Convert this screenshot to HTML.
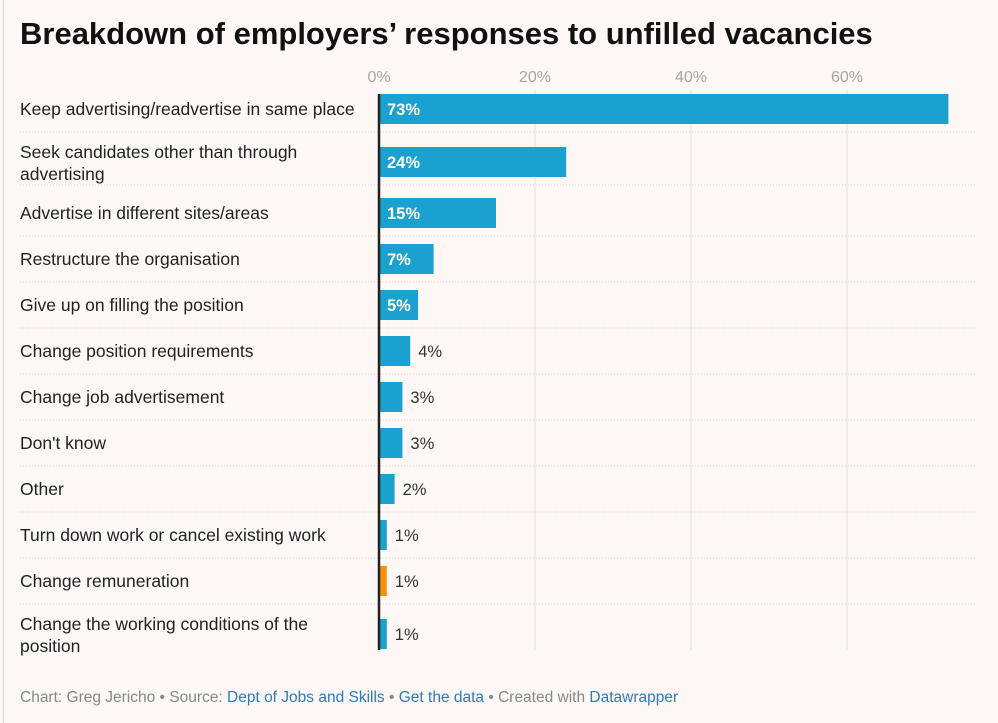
<!DOCTYPE html>
<html><head><meta charset="utf-8"><style>
body{margin:0;background:#fdf8f5;}
svg{display:block;font-family:"Liberation Sans",sans-serif;}
</style></head><body>
<svg id="c" width="998" height="723">
<rect x="0" y="0" width="998" height="723" fill="#fdf8f5"/>
<line x1="3.5" y1="0" x2="3.5" y2="723" stroke="#e2ddd9" stroke-width="1.5"/>
<text x="20" y="44" font-size="31" font-weight="bold" fill="#111">Breakdown of employers’ responses to unfilled vacancies</text>
<g id="grid"></g><g id="rows"></g>
<text x="20" y="702" font-size="15.5" fill="#888">Chart: Greg Jericho • Source: <tspan fill="#2b7cc6">Dept of Jobs and Skills</tspan> • <tspan fill="#2b7cc6">Get the data</tspan> • Created with <tspan fill="#2b7cc6">Datawrapper</tspan></text>
</svg>
<script>
const categories=[["Keep advertising/readvertise in same place"],["Seek candidates other than through","advertising"],["Advertise in different sites/areas"],["Restructure the organisation"],["Give up on filling the position"],["Change position requirements"],["Change job advertisement"],["Don't know"],["Other"],["Turn down work or cancel existing work"],["Change remuneration"],["Change the working conditions of the","position"]];
const values=[73,24,15,7,5,4,3,3,2,1,1,1];
const highlight=[false,false,false,false,false,false,false,false,false,false,true,false];
const ticks=[0,20,40,60];
const NS="http://www.w3.org/2000/svg";
const x0=379,k=7.8;
const xs=v=>x0+v*k;
function el(t,a,p){const e=document.createElementNS(NS,t);for(const n in a)e.setAttribute(n,a[n]);p.appendChild(e);return e;}
const grid=document.getElementById('grid'),rows=document.getElementById('rows');
ticks.forEach(t=>{
 if(t>0){const l=el('line',{x1:xs(t),x2:xs(t),y1:90,y2:650,stroke:'#e3dfdb','stroke-width':1},grid);
 
 }
 const tx=el('text',{x:xs(t),y:82,'font-size':16,fill:'#a8a4a0','text-anchor':'middle'},grid);
 tx.textContent=t+'%';
 
 
});
let y=94;
categories.forEach((c,i)=>{
 const two=c.length>1;
 const rh=two?53:46;
 const top=y+(two?(i===1?0:0):0);
 const by=two?y+ (i===11?0:0):y;
 const b=el('rect',{x:x0,y:by,width:Math.max(values[i]*k,1),height:30,fill:highlight[i]?'#f7900f':'#1aa1cf'},rows);
 
 
 const cy=by+15;
 const lab=el('text',{x:20,y:two?cy-4:cy+6,'font-size':17.5,fill:'#222'},rows);
 
 
 c.forEach((line,j)=>{const ts=el('tspan',{x:20,dy:j?22:0},lab);ts.textContent=line;});
 const inside=values[i]>=5;
 const vt=el('text',{x:inside?x0+8:xs(values[i])+8,y:cy+6,'font-size':16.5,fill:inside?'#fff':'#333','font-weight':inside?'bold':'normal'},rows);
 vt.textContent=values[i]+'%';
 
 
 if(i<categories.length-1){
  const s=el('line',{x1:20,x2:975,y1:by+38,y2:by+38,stroke:'#d8d4d0','stroke-dasharray':'1,2'},rows);
  
  
 }
 y+= (i===0)?53:(i===1?51:(i===10?39:46));
 if(i===10) y+=14;
});
const ax=el('line',{x1:x0,x2:x0,y1:94,y2:650,stroke:'#222','stroke-width':2.5},rows);


</script>
</body></html>
